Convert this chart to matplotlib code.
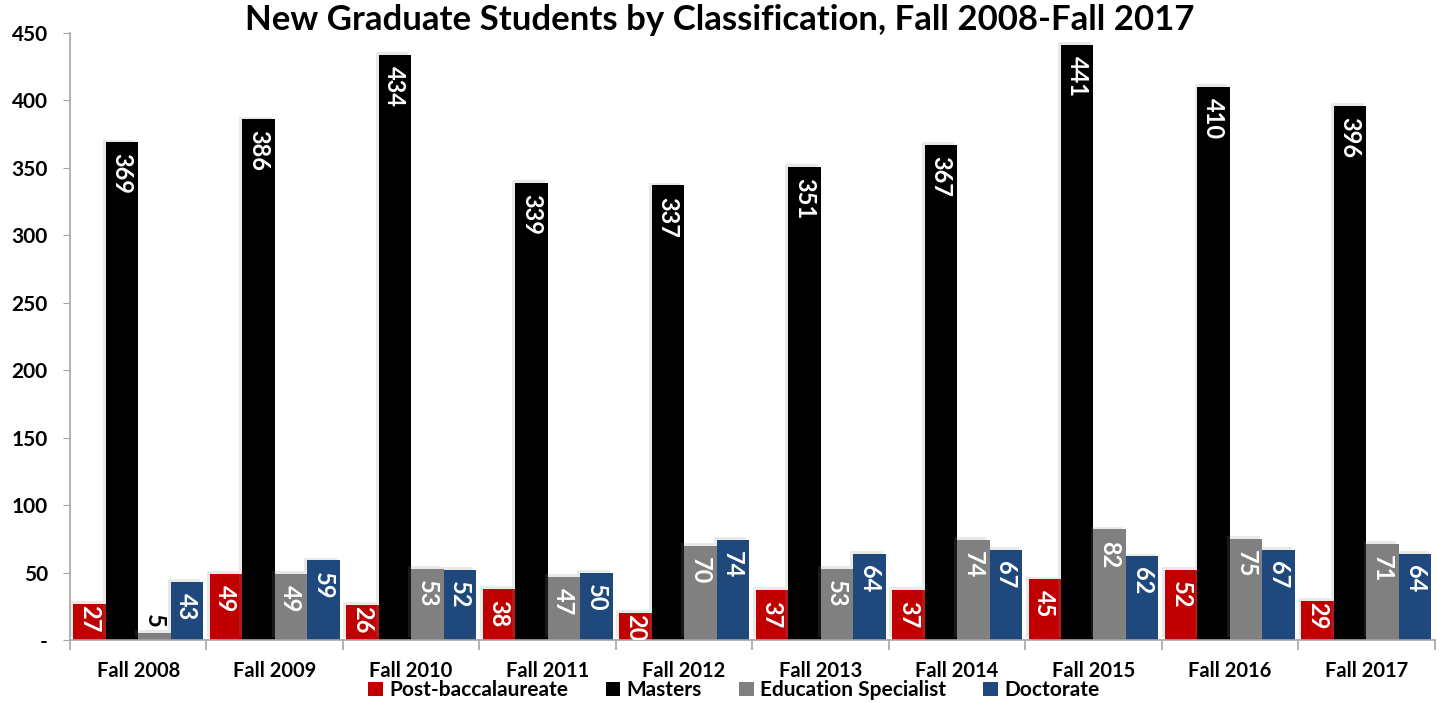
import matplotlib
matplotlib.use("Agg")
import matplotlib.pyplot as plt
import matplotlib.patheffects as pe
from matplotlib.patches import Patch
from matplotlib.ticker import FuncFormatter, FixedLocator
import numpy as np

plt.rcParams['font.family'] = ['Lato', 'DejaVu Sans']
plt.rcParams['font.weight'] = 'bold'

# data
years = ['Fall 2008', 'Fall 2009', 'Fall 2010', 'Fall 2011', 'Fall 2012',
         'Fall 2013', 'Fall 2014', 'Fall 2015', 'Fall 2016', 'Fall 2017']
post_bacc = [27, 49, 26, 38, 20, 37, 37, 45, 52, 29]
masters = [369, 386, 434, 339, 337, 351, 367, 441, 410, 396]
ed_spec = [5, 49, 53, 47, 70, 53, 74, 82, 75, 71]
doctorate = [43, 59, 52, 50, 74, 64, 67, 62, 67, 64]

series_names = ['Post-baccalaureate', 'Masters', 'Education Specialist', 'Doctorate']
series_vals = [post_bacc, masters, ed_spec, doctorate]
colors = ['#C00000', '#000000', '#808080', '#1F497D']

fig = plt.figure(figsize=(14.39, 7.03), dpi=100)
ax = fig.add_axes([0.0486, 0.0896, 0.9484, 0.8634])

x = np.arange(len(years))
w = 0.238
shadow = [pe.SimplePatchShadow(offset=(-2, 2), shadow_rgbFace='#888888', alpha=0.18), pe.Normal()]

for k, (name, vals, c) in enumerate(zip(series_names, series_vals, colors)):
    pos = x + (k - 1.5) * w
    bars = ax.bar(pos, vals, width=w, color=c, label=name, zorder=2)
    for b in bars:
        b.set_path_effects(shadow)
    for p, v in zip(pos, vals):
        if v < 15:
            # too small to hold the label, put it above
            ax.annotate(str(v), (p, v), xytext=(0, 4), textcoords='offset points',
                        rotation=270, ha='center', va='bottom', color='black',
                        fontsize=17, fontweight='bold', zorder=3)
        else:
            # short bars: label hugs the top so it still fits
            off = -1 if v < 35 else -8
            ax.annotate(str(v), (p, v), xytext=(0, off), textcoords='offset points',
                        rotation=270, ha='center', va='top', color='white',
                        fontsize=17, fontweight='bold', zorder=3,
                        annotation_clip=False, clip_on=True)

ax.set_xlim(-0.5, len(years) - 0.5)
ax.set_ylim(0, 450)
ax.set_yticks(np.arange(0, 451, 50))
ax.yaxis.set_major_formatter(FuncFormatter(lambda v, _: '-' if v == 0 else f'{int(v)}'))

ax.set_xticks(x)
ax.set_xticklabels(years)
ax.xaxis.set_minor_locator(FixedLocator(np.arange(-0.5, len(years), 1.0)))
ax.tick_params(axis='x', which='major', length=0, pad=15, labelsize=14.5)
ax.tick_params(axis='x', which='minor', length=7, color='#A6A6A6', width=1.2)
ax.tick_params(axis='y', length=5, color='#A6A6A6', labelsize=15, pad=11)

for s in ['top', 'right']:
    ax.spines[s].set_visible(False)
for s in ['left', 'bottom']:
    ax.spines[s].set_color('#A6A6A6')
    ax.spines[s].set_linewidth(1.2)

fig.suptitle('New Graduate Students by Classification, Fall 2008-Fall 2017',
             x=0.5, y=0.995, fontsize=25, fontweight='bold')

handles = [Patch(facecolor=c) for c in colors]
fig.legend(handles, series_names, loc='center', bbox_to_anchor=(0.51, 0.018),
           ncol=4, frameon=False, fontsize=15, handlelength=0.7, handleheight=0.7,
           handletextpad=0.3, columnspacing=1.8, borderpad=0.1)

fig.savefig('out.png', dpi=100)
